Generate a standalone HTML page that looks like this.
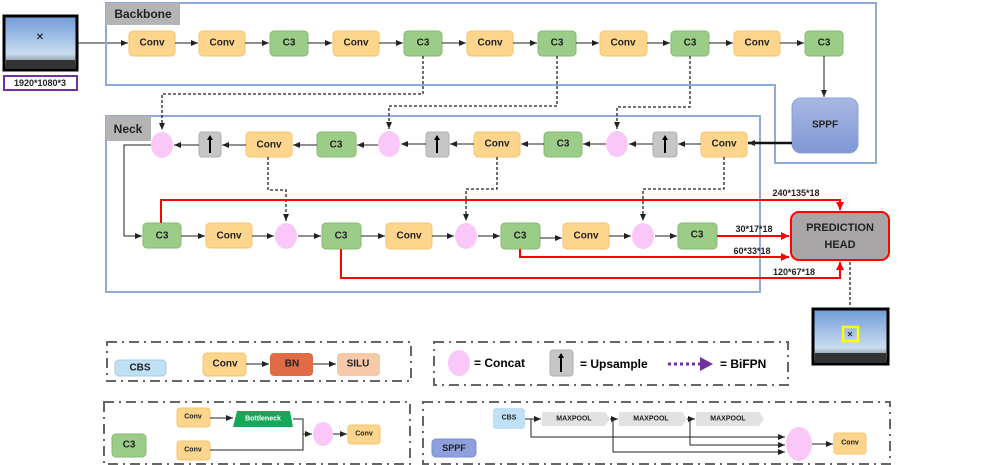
<!DOCTYPE html>
<html><head><meta charset="utf-8"><style>
html,body{margin:0;padding:0;background:#fff;}
svg{display:block;font-family:"Liberation Sans",sans-serif;}
.cv{fill:#fed58c;stroke:#f6c56c;stroke-width:1;}
.c3{fill:#9ccd88;stroke:#86b874;stroke-width:1;}
.cc{fill:#f9c8f8;}
.up{fill:#c6c6c6;stroke:#b0b0b0;}
.t{font-size:10px;font-weight:bold;fill:#222;text-anchor:middle;dominant-baseline:central;}
.s{font-size:7px;}
.ln{stroke:#222;stroke-width:1;fill:none;}
.da{stroke:#222;stroke-width:1.3;fill:none;stroke-dasharray:3,2;}
.rd{stroke:#f00;stroke-width:2;fill:none;}
.lg{stroke:#666;stroke-width:2;fill:none;stroke-dasharray:10,5,2,5;}
.ua{stroke:#000;stroke-width:2;}
</style></head><body>
<svg width="996" height="465" viewBox="0 0 996 465" xmlns="http://www.w3.org/2000/svg">
<defs>
<marker id="a" markerWidth="8" markerHeight="8" refX="7" refY="4" orient="auto" markerUnits="userSpaceOnUse"><path d="M0,1 L7,4 L0,7z" fill="#222"/></marker>
<marker id="r" markerWidth="10" markerHeight="10" refX="8" refY="5" orient="auto" markerUnits="userSpaceOnUse"><path d="M0,1 L8,5 L0,9z" fill="#f00"/></marker>
<linearGradient id="sky" x1="0" y1="0" x2="0" y2="1"><stop offset="0" stop-color="#6f9ad8"/><stop offset="0.7" stop-color="#c9dcf0"/><stop offset="1" stop-color="#555"/></linearGradient>
<linearGradient id="sp" x1="0" y1="0" x2="0" y2="1"><stop offset="0" stop-color="#a9b8e2"/><stop offset="1" stop-color="#8097d5"/></linearGradient>
</defs>

<rect x="4" y="16" width="73" height="54" fill="url(#sky)" stroke="#000" stroke-width="3"/>
<rect x="6" y="60" width="69" height="8" fill="#333"/>
<text x="40" y="40" font-size="10" text-anchor="middle" fill="#000">✕</text>
<rect x="4" y="76" width="73" height="14" fill="#fff" stroke="#7030a0" stroke-width="2"/>
<text x="40" y="83" class="t" style="font-size:9px">1920*1080*3</text>
<line x1="78" y1="43" x2="128" y2="43" class="ln" marker-end="url(#a)"/>

<path d="M106,3 H876 V163 H775 V85 H106 Z" fill="none" stroke="#8eaadb" stroke-width="2"/>
<rect x="106" y="3" width="74" height="22" fill="#b4b4b4"/>
<text x="143" y="14" class="t" style="font-size:12px">Backbone</text>

<rect x="129" y="31" width="46" height="25" rx="4" class="cv"/><text x="152" y="43" class="t">Conv</text>
<rect x="199" y="31" width="46" height="25" rx="4" class="cv"/><text x="222" y="43" class="t">Conv</text>
<rect x="270" y="31" width="38" height="25" rx="4" class="c3"/><text x="289" y="43" class="t">C3</text>
<rect x="333" y="31" width="46" height="25" rx="4" class="cv"/><text x="356" y="43" class="t">Conv</text>
<rect x="404" y="31" width="38" height="25" rx="4" class="c3"/><text x="423" y="43" class="t">C3</text>
<rect x="467" y="31" width="46" height="25" rx="4" class="cv"/><text x="490" y="43" class="t">Conv</text>
<rect x="538" y="31" width="38" height="25" rx="4" class="c3"/><text x="557" y="43" class="t">C3</text>
<rect x="600" y="31" width="47" height="25" rx="4" class="cv"/><text x="623" y="43" class="t">Conv</text>
<rect x="671" y="31" width="38" height="25" rx="4" class="c3"/><text x="690" y="43" class="t">C3</text>
<rect x="734" y="31" width="46" height="25" rx="4" class="cv"/><text x="757" y="43" class="t">Conv</text>
<rect x="805" y="31" width="38" height="25" rx="4" class="c3"/><text x="824" y="43" class="t">C3</text>
<g class="ln">
<line x1="175" y1="43" x2="198" y2="43" marker-end="url(#a)"/>
<line x1="245" y1="43" x2="269" y2="43" marker-end="url(#a)"/>
<line x1="308" y1="43" x2="332" y2="43" marker-end="url(#a)"/>
<line x1="379" y1="43" x2="403" y2="43" marker-end="url(#a)"/>
<line x1="442" y1="43" x2="466" y2="43" marker-end="url(#a)"/>
<line x1="513" y1="43" x2="537" y2="43" marker-end="url(#a)"/>
<line x1="576" y1="43" x2="599" y2="43" marker-end="url(#a)"/>
<line x1="647" y1="43" x2="670" y2="43" marker-end="url(#a)"/>
<line x1="709" y1="43" x2="733" y2="43" marker-end="url(#a)"/>
<line x1="780" y1="43" x2="804" y2="43" marker-end="url(#a)"/>
<line x1="824" y1="56" x2="824" y2="97" marker-end="url(#a)"/>
</g>
<rect x="792" y="98" width="66" height="55" rx="9" fill="url(#sp)" stroke="#8aa0d8"/>
<text x="825" y="125" class="t">SPPF</text>

<rect x="106" y="116" width="654" height="176" fill="none" stroke="#8eaadb" stroke-width="2"/>
<rect x="106" y="116" width="45" height="25" fill="#b4b4b4"/>
<text x="128" y="129" class="t" style="font-size:12px">Neck</text>

<ellipse cx="162" cy="145" rx="11" ry="13" class="cc"/>
<rect x="199" y="132" width="22" height="25" rx="3" class="up"/>
<line x1="210" y1="153" x2="210" y2="139" class="ua"/><path d="M207,140 L210,135 L213,140z" fill="#000"/>
<rect x="246" y="132" width="46" height="25" rx="4" class="cv"/><text x="269" y="145" class="t">Conv</text>
<rect x="317" y="132" width="39" height="25" rx="4" class="c3"/><text x="336" y="145" class="t">C3</text>
<ellipse cx="389" cy="144" rx="11" ry="13" class="cc"/>
<rect x="426" y="132" width="23" height="25" rx="3" class="up"/>
<line x1="437" y1="153" x2="437" y2="139" class="ua"/><path d="M434,140 L437,135 L440,140z" fill="#000"/>
<rect x="474" y="132" width="46" height="25" rx="4" class="cv"/><text x="497" y="144" class="t">Conv</text>
<rect x="544" y="132" width="38" height="25" rx="4" class="c3"/><text x="563" y="144" class="t">C3</text>
<ellipse cx="617" cy="144" rx="11" ry="13" class="cc"/>
<rect x="653" y="132" width="24" height="25" rx="3" class="up"/>
<line x1="665" y1="153" x2="665" y2="139" class="ua"/><path d="M662,140 L665,135 L668,140z" fill="#000"/>
<rect x="701" y="132" width="46" height="25" rx="4" class="cv"/><text x="724" y="144" class="t">Conv</text>
<line x1="792" y1="143" x2="748" y2="143" stroke="#111" stroke-width="2.5" marker-end="url(#a)"/>
<g class="ln">
<line x1="701" y1="144" x2="678" y2="144" marker-end="url(#a)"/>
<line x1="653" y1="144" x2="629" y2="144" marker-end="url(#a)"/>
<line x1="606" y1="144" x2="583" y2="144" marker-end="url(#a)"/>
<line x1="544" y1="144" x2="521" y2="144" marker-end="url(#a)"/>
<line x1="474" y1="144" x2="450" y2="144" marker-end="url(#a)"/>
<line x1="426" y1="144" x2="401" y2="144" marker-end="url(#a)"/>
<line x1="378" y1="145" x2="357" y2="145" marker-end="url(#a)"/>
<line x1="317" y1="145" x2="293" y2="145" marker-end="url(#a)"/>
<line x1="246" y1="145" x2="222" y2="145" marker-end="url(#a)"/>
<line x1="199" y1="145" x2="174" y2="145" marker-end="url(#a)"/>
<path d="M151,145 H124 V236 H142" marker-end="url(#a)"/>
</g>

<rect x="143" y="223" width="38" height="25" rx="4" class="c3"/><text x="162" y="236" class="t">C3</text>
<rect x="206" y="223" width="46" height="25" rx="4" class="cv"/><text x="229" y="236" class="t">Conv</text>
<ellipse cx="286" cy="236" rx="11" ry="13" class="cc"/>
<rect x="322" y="223" width="39" height="26" rx="4" class="c3"/><text x="341" y="236" class="t">C3</text>
<rect x="386" y="223" width="46" height="26" rx="4" class="cv"/><text x="409" y="236" class="t">Conv</text>
<ellipse cx="466" cy="236" rx="11" ry="13" class="cc"/>
<rect x="501" y="223" width="39" height="26" rx="4" class="c3"/><text x="520" y="236" class="t">C3</text>
<rect x="563" y="223" width="46" height="26" rx="4" class="cv"/><text x="586" y="236" class="t">Conv</text>
<ellipse cx="643" cy="236" rx="11" ry="13" class="cc"/>
<rect x="678" y="223" width="39" height="26" rx="4" class="c3"/><text x="697" y="235" class="t">C3</text>
<g class="ln">
<line x1="181" y1="236" x2="205" y2="236" marker-end="url(#a)"/>
<line x1="252" y1="236" x2="274" y2="236" marker-end="url(#a)"/>
<line x1="298" y1="236" x2="321" y2="236" marker-end="url(#a)"/>
<line x1="361" y1="236" x2="385" y2="236" marker-end="url(#a)"/>
<line x1="432" y1="236" x2="454" y2="236" marker-end="url(#a)"/>
<line x1="478" y1="236" x2="500" y2="236" marker-end="url(#a)"/>
<line x1="540" y1="238" x2="562" y2="238" marker-end="url(#a)"/>
<line x1="609" y1="236" x2="631" y2="236" marker-end="url(#a)"/>
<line x1="655" y1="236" x2="677" y2="236" marker-end="url(#a)"/>
</g>

<g class="da">
<path d="M423,56 V94 H162 V130" marker-end="url(#a)"/>
<path d="M557,56 V106 H389 V129" marker-end="url(#a)"/>
<path d="M690,56 V107 H617 V129" marker-end="url(#a)"/>
<path d="M268,157 V190 H286 V221" marker-end="url(#a)"/>
<path d="M497,157 V189 H466 V221" marker-end="url(#a)"/>
<path d="M724,157 V189 H643 V221" marker-end="url(#a)"/>
<path d="M850,262 V305"/>
</g>

<g class="rd">
<path d="M161,223 V200 H840 V210" marker-end="url(#r)"/>
<path d="M717,236 H789" marker-end="url(#r)"/>
<path d="M520,249 V257 H789" marker-end="url(#r)"/>
<path d="M341,249 V278 H840 V262" marker-end="url(#r)"/>
</g>
<text x="796" y="193" class="t" style="font-size:9px">240*135*18</text>
<text x="754" y="229" class="t" style="font-size:9px">30*17*18</text>
<text x="752" y="251" class="t" style="font-size:9px">60*33*18</text>
<text x="794" y="272" class="t" style="font-size:9px">120*67*18</text>
<rect x="791" y="212" width="98" height="48" rx="8" fill="#a8a6a6" stroke="#f00" stroke-width="2"/>
<text x="840" y="228" class="t" style="font-size:11px">PREDICTION</text>
<text x="840" y="245" class="t" style="font-size:11px">HEAD</text>

<rect x="813" y="309" width="75" height="55" fill="url(#sky)" stroke="#000" stroke-width="3"/>
<rect x="815" y="353" width="71" height="9" fill="#333"/>
<rect x="843" y="327" width="15" height="14" fill="none" stroke="#ff0" stroke-width="2.5"/>
<text x="850" y="337" font-size="8" text-anchor="middle">✕</text>

<rect x="107" y="342" width="304" height="39" class="lg"/>
<rect x="115" y="360" width="51" height="16" rx="4" fill="#bfe0f5" stroke="#a8cce8"/><text x="140" y="368" class="t">CBS</text>
<rect x="203" y="353" width="43" height="23" rx="4" class="cv"/><text x="225" y="364" class="t">Conv</text>
<rect x="270" y="353" width="43" height="23" rx="4" fill="#e06b45"/><text x="292" y="364" class="t">BN</text>
<rect x="337" y="353" width="43" height="23" rx="4" fill="#f8c9a8"/><text x="358" y="364" class="t">SILU</text>
<line x1="246" y1="364" x2="269" y2="364" class="ln" marker-end="url(#a)"/>
<line x1="313" y1="364" x2="336" y2="364" class="ln" marker-end="url(#a)"/>

<rect x="434" y="342" width="354" height="43" class="lg"/>
<ellipse cx="459" cy="363" rx="11" ry="13" class="cc"/>
<text x="474" y="363" font-size="12" font-weight="bold" dominant-baseline="central">= Concat</text>
<rect x="550" y="350" width="23" height="26" rx="3" class="up"/>
<line x1="561" y1="372" x2="561" y2="357" class="ua"/><path d="M558,358 L561,353 L564,358z" fill="#000"/>
<text x="580" y="364" font-size="12" font-weight="bold" dominant-baseline="central">= Upsample</text>
<line x1="668" y1="364" x2="702" y2="364" stroke="#7030a0" stroke-width="3" stroke-dasharray="3,3"/>
<path d="M700,357 L713,364 L700,371z" fill="#7030a0"/>
<text x="720" y="364" font-size="12" font-weight="bold" dominant-baseline="central">= BiFPN</text>

<rect x="104" y="402" width="306" height="62" class="lg"/>
<rect x="112" y="434" width="34" height="23" rx="4" class="c3"/><text x="129" y="445" class="t">C3</text>
<rect x="177" y="408" width="33" height="19" rx="3" class="cv"/><text x="193" y="417" class="t s">Conv</text>
<rect x="177" y="441" width="33" height="19" rx="3" class="cv"/><text x="193" y="450" class="t s">Conv</text>
<path d="M237,411 H290 L293,427 H233 Z" fill="#13a85a"/><text x="263" y="419" class="t s" style="fill:#fff">Bottleneck</text>
<ellipse cx="323" cy="434" rx="10" ry="12" class="cc"/>
<rect x="348" y="425" width="32" height="19" rx="3" class="cv"/><text x="364" y="434" class="t s">Conv</text>
<g class="ln">
<line x1="210" y1="418" x2="233" y2="418" marker-end="url(#a)"/>
<path d="M293,419 H303 V434 H312" marker-end="url(#a)"/>
<path d="M210,450 H303 V434"/>
<line x1="333" y1="434" x2="347" y2="434" marker-end="url(#a)"/>
</g>

<rect x="423" y="402" width="467" height="62" class="lg"/>
<rect x="432" y="439" width="44" height="18" rx="4" fill="#8ea0dc" stroke="#7a8fcf"/><text x="454" y="448" class="t" style="font-size:9px">SPPF</text>
<rect x="493" y="408" width="32" height="21" rx="3" fill="#bfe0f5"/><text x="509" y="418" class="t s">CBS</text>
<path d="M542,412 H605 L610,419 L605,426 H542Z" fill="#e2e2e2"/><text x="574" y="419" class="t s">MAXPOOL</text>
<path d="M619,412 H682 L687,419 L682,426 H619Z" fill="#e2e2e2"/><text x="651" y="419" class="t s">MAXPOOL</text>
<path d="M696,412 H759 L764,419 L759,426 H696Z" fill="#e2e2e2"/><text x="728" y="419" class="t s">MAXPOOL</text>
<ellipse cx="799" cy="444" rx="13" ry="17" class="cc"/>
<rect x="834" y="433" width="32" height="21" rx="3" class="cv"/><text x="850" y="443" class="t s">Conv</text>
<g class="ln">
<line x1="525" y1="419" x2="541" y2="419" marker-end="url(#a)"/>
<line x1="610" y1="419" x2="618" y2="419" marker-end="url(#a)"/>
<line x1="687" y1="419" x2="695" y2="419" marker-end="url(#a)"/>
<path d="M531,419 V437 H785" marker-end="url(#a)"/>
<path d="M613,419 V452 H785" marker-end="url(#a)"/>
<path d="M690,419 V445 H785" marker-end="url(#a)"/>
<line x1="812" y1="444" x2="833" y2="444" marker-end="url(#a)"/>
</g>
</svg>
</body></html>
